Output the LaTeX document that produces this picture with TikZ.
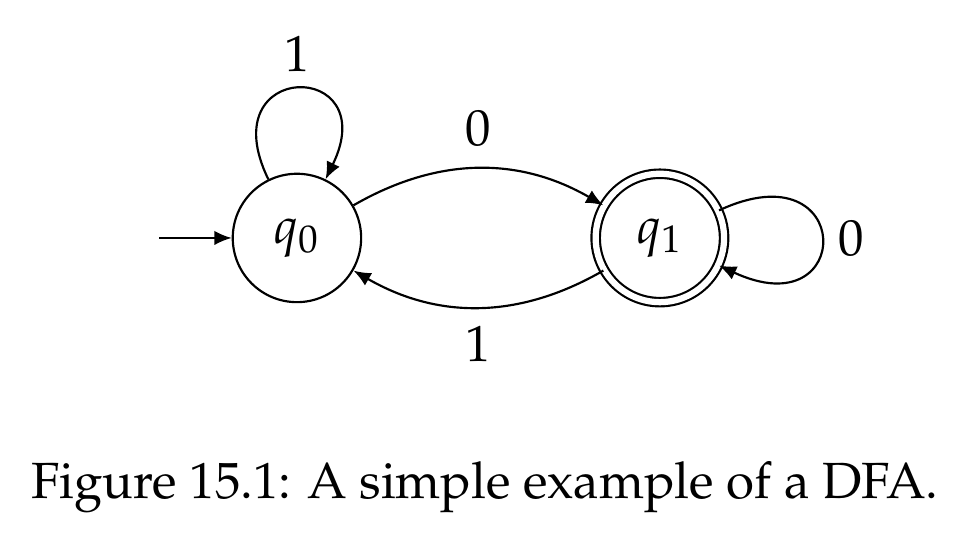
\documentclass[tikz,border=0pt]{standalone}
\usepackage[T1]{fontenc}
\usepackage{mathpazo}
\usetikzlibrary{automata,positioning,arrows.meta}

\begin{document}
\begin{tikzpicture}[
  font=\fontsize{10.6}{12.7}\selectfont,
  >={Latex[length=3.6pt,width=3pt]},
  every state/.style={draw, circle, minimum size=0.94cm, inner sep=0pt, line width=0.45pt},
  accepting/.style={double, double distance=1.3pt},
  trans/.style={->, line width=0.45pt},
  initial text={}, initial distance=0.53cm
]
\useasboundingbox (-2.174,-2.299) rectangle (4.898,1.742);

\node[state, initial] (q0) at (0,0) {$q_0$};
\node[state, accepting] (q1) at (2.657,0) {$q_1$};

\draw[trans] (q0) edge[bend left=30] node[above=1pt] {0} (q1);
\draw[trans] (q1) edge[bend left=30] node[below=0.5pt] {1} (q0);
\draw[trans] (q0) edge[out=116, in=64, looseness=6] node[above] {1} (q0);
\draw[trans] (q1) edge[out=25, in=-25, looseness=7] node[right] {0} (q1);

\node (caption) at (1.376,-1.823) {Figure 15.1: A simple example of a DFA.};
\end{tikzpicture}
\end{document}
